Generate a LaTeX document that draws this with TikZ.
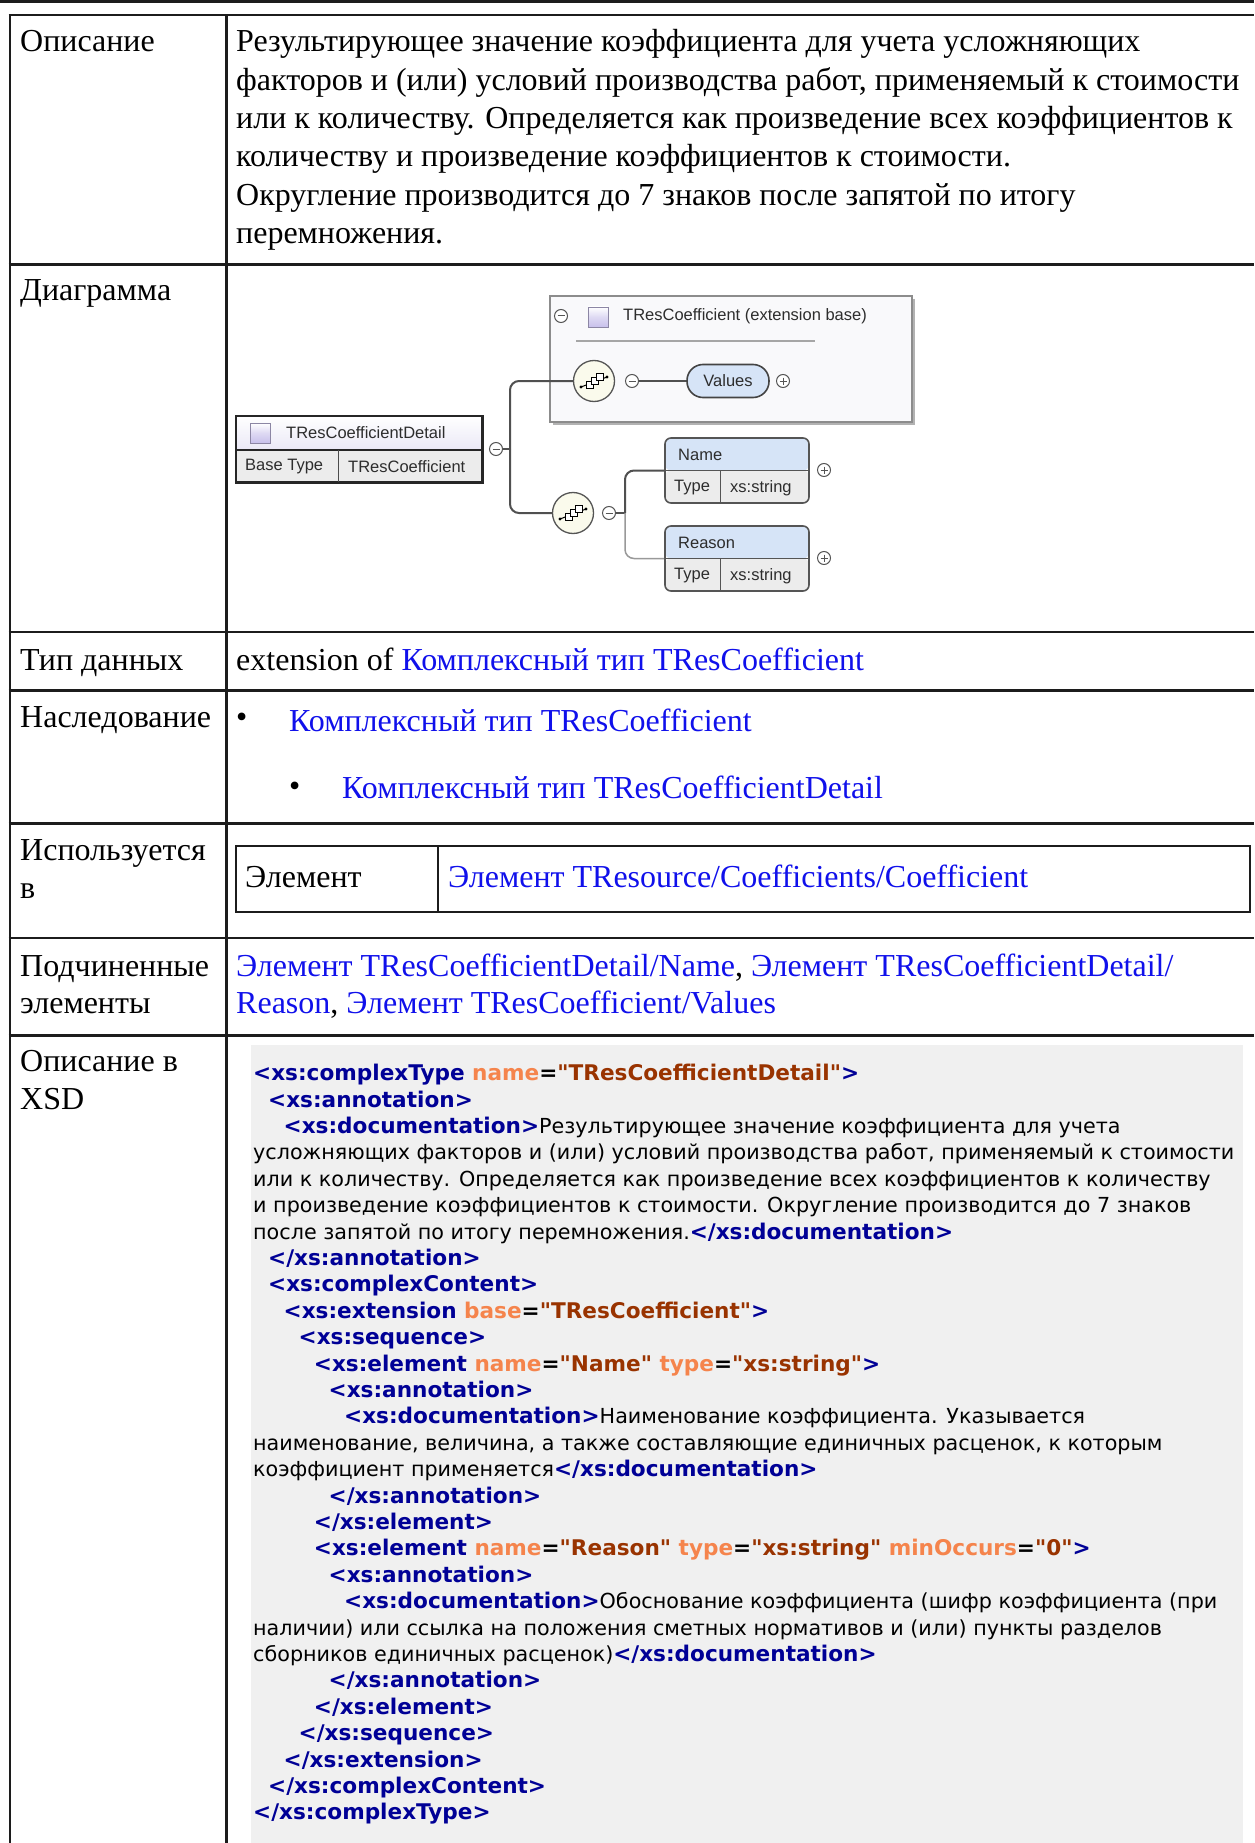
\documentclass[tikz,border=0pt]{standalone}
\usepackage{fontspec}
\setmainfont{Liberation Serif}
\newfontfamily\codefont{DejaVu Sans}
\newfontfamily\diafont{Liberation Sans}
\usetikzlibrary{calc}
\definecolor{rulec}{RGB}{28,28,28}
\definecolor{linkc}{RGB}{16,16,235}
\definecolor{tagc}{RGB}{0,0,150}
\definecolor{attc}{RGB}{245,132,76}
\definecolor{valc}{RGB}{153,51,0}
\definecolor{codebg}{RGB}{240,240,240}
\definecolor{diac}{RGB}{45,45,45}
\definecolor{pmc}{RGB}{85,85,85}
\definecolor{connc}{RGB}{80,80,80}
\definecolor{seqf}{RGB}{250,250,236}
\definecolor{elhead}{RGB}{214,228,247}
\definecolor{elrow}{RGB}{236,236,236}
\definecolor{elline}{RGB}{85,85,85}
\definecolor{lav}{RGB}{200,192,235}
\newcommand\bfsz{\fontsize{21.6}{26}\selectfont\bfseries}
\newcommand\xtg[1]{{\bfsz\color{tagc}#1}}
\newcommand\xan[1]{{\bfsz\color{attc}#1}}
\newcommand\xav[1]{{\bfsz\color{valc}#1}}
\newcommand\xeq{{\bfsz=}}
\newcommand\xsp{{\bfsz\ }}
\tikzset{
  txt/.style={inner sep=0pt, anchor=base west, font=\fontsize{32}{38}\selectfont},
  lnk/.style={txt, text=linkc},
  code/.style={inner sep=0pt, anchor=base west, font=\codefont\fontsize{20.7}{26}\selectfont},
  dtxt/.style={inner sep=0pt, anchor=west, font=\diafont\fontsize{16.5}{18}\selectfont, text=diac},
  pm/.style={circle, draw=pmc, line width=1pt, fill=white, minimum size=13pt, inner sep=0pt},
  seqc/.style={circle, draw=pmc, line width=1.3pt, fill=seqf, minimum size=41pt, inner sep=0pt},
  conn/.style={draw=connc, line width=2pt, rounded corners=9pt},
  connlight/.style={draw=black!40, line width=1.5pt, rounded corners=9pt},
  icon/.style={draw=lav!70!black, line width=0.8pt, minimum size=20pt, inner sep=0pt,
    top color=white, bottom color=lav, middle color=lav!60},
  elbox/.style={draw=elline, line width=1.6pt, rounded corners=6pt, minimum width=144pt,
    minimum height=65pt, inner sep=0pt,
    path picture={\fill[elhead] (path picture bounding box.north west) rectangle (path picture bounding box.east);
      \fill[elrow] (path picture bounding box.west) rectangle (path picture bounding box.south east);}},
  valbox/.style={draw=elline!80!black, line width=1.6pt, rounded corners=16pt, fill=elhead,
    minimum width=82pt, minimum height=33pt, inner sep=0pt, font=\diafont\fontsize{16.5}{18}\selectfont, text=diac},
}
\newcommand\seqicon[1]{%
  \draw[black, line width=1pt] ($(#1)+(-13,6)$) -- ($(#1)+(13,-4)$);
  \fill[black] ($(#1)+(-13,6)$) circle (1.6pt);
  \fill[black] ($(#1)+(13,-4)$) circle (1.6pt);
  \draw[black, fill=white, line width=1pt] ($(#1)+(-8,0)$) rectangle ($(#1)+(-1,7)$);
  \draw[black, fill=white, line width=1pt] ($(#1)+(-3,-4)$) rectangle ($(#1)+(4,3)$);
  \draw[black, fill=white, line width=1pt] ($(#1)+(2,-8)$) rectangle ($(#1)+(9,-1)$);
}
\newcommand\minussign[1]{\draw[pmc, line width=1pt] ($(#1)+(-3.5,0)$) -- ($(#1)+(3.5,0)$);}
\newcommand\plussign[1]{\draw[pmc, line width=1pt] ($(#1)+(-3.5,0)$) -- ($(#1)+(3.5,0)$);
  \draw[pmc, line width=1pt] ($(#1)+(0,-3.5)$) -- ($(#1)+(0,3.5)$);}
\begin{document}
\begin{tikzpicture}[x=1pt,y=-1pt]
\useasboundingbox (0,0) rectangle (1254,1843);
\fill[white] (0,0) rectangle (1254,1843);
% code background
\fill[codebg] (251,1045) rectangle (1243,1843);
% table lines
\draw[rulec, line width=3pt] (0,1.3) -- (1254,1.3);
\foreach \yy in {15,264.5,632,690.5,823.5,938,1035.5}{
  \draw[rulec, line width=2.6pt] (8.7,\yy) -- (1254,\yy);
}
\draw[rulec, line width=2.6pt] (10,15) -- (10,1843);
\draw[rulec, line width=2.6pt] (226.5,15) -- (226.5,1843);
% inner table
\draw[rulec, line width=2.6pt] (236,846) rectangle (1250,912);
\draw[rulec, line width=2.6pt] (438,846) -- (438,912);

% row 1
\node[txt] (l1) at (20,52) {Описание};
\node[txt] (r1a) at (236,52) {Результирующее значение коэффициента для учета усложняющих};
\node[txt] (r1b) at (236,90.3) {факторов и (или) условий производства работ, применяемый к стоимости};
\node[txt] (r1c) at (236,128.6) {или к количеству. Определяется как произведение всех коэффициентов к};
\node[txt] (r1d) at (236,166.9) {количеству и произведение коэффициентов к стоимости.};
\node[txt] (r1e) at (236,205.2) {Округление производится до 7 знаков после запятой по итогу};
\node[txt] (r1f) at (236,243.5) {перемножения.};
% row 2
\node[txt] (l2) at (20,301) {Диаграмма};
% row 3
\node[txt] (l3) at (20,670) {Тип данных};
\node[txt] (r3) at (236,670) {extension of \textcolor{linkc}{Комплексный тип TResCoefficient}};
% row 4
\node[txt] (l4) at (20,727) {Наследование};
\node[txt] (b1) at (236,727) {•};
\node[lnk] (r4a) at (289,731) {Комплексный тип TResCoefficient};
\node[txt] (b2) at (289,796) {•};
\node[lnk] (r4b) at (342,798) {Комплексный тип TResCoefficientDetail};
% row 5
\node[txt] (l5a) at (20,860) {Используется};
\node[txt] (l5b) at (20,898) {в};
\node[txt] (r5a) at (245,887) {Элемент};
\node[lnk] (r5b) at (448,887) {Элемент TResource/Coefficients/Coefficient};
% row 6
\node[txt] (l6a) at (20,976) {Подчиненные};
\node[txt] (l6b) at (20,1013) {элементы};
\node[txt] (r6a) at (236,976) {\textcolor{linkc}{Элемент TResCoefficientDetail/Name}, \textcolor{linkc}{Элемент TResCoefficientDetail/}};
\node[txt] (r6b) at (236,1013) {\textcolor{linkc}{Reason}, \textcolor{linkc}{Элемент TResCoefficient/Values}};
% row 7
\node[txt] (l7a) at (20,1071) {Описание в};
\node[txt] (l7b) at (20,1109) {XSD};

% code
\node[code] (c0) at (253,1080.7) {\xtg{<xs:complexType}\xsp\xan{name}\xeq\xav{"TResCoefficientDetail"}\xtg{>}};
\node[code] (c1) at (268,1107.1) {\xtg{<xs:annotation>}};
\node[code] (c2) at (283.5,1133.5) {\xtg{<xs:documentation>}Результирующее значение коэффициента для учета};
\node[code] (c3) at (253,1159.9) {усложняющих факторов и (или) условий производства работ, применяемый к стоимости};
\node[code] (c4) at (253,1186.3) {или к количеству. Определяется как произведение всех коэффициентов к количеству};
\node[code] (c5) at (253,1212.7) {и произведение коэффициентов к стоимости. Округление производится до 7 знаков};
\node[code] (c6) at (253,1239.1) {после запятой по итогу перемножения.\xtg{</xs:documentation>}};
\node[code] (c7) at (268,1265.5) {\xtg{</xs:annotation>}};
\node[code] (c8) at (268,1291.9) {\xtg{<xs:complexContent>}};
\node[code] (c9) at (283.5,1318.3) {\xtg{<xs:extension}\xsp\xan{base}\xeq\xav{"TResCoefficient"}\xtg{>}};
\node[code] (c10) at (298.5,1344.7) {\xtg{<xs:sequence>}};
\node[code] (c11) at (313.7,1371.1) {\xtg{<xs:element}\xsp\xan{name}\xeq\xav{"Name"}\xsp\xan{type}\xeq\xav{"xs:string"}\xtg{>}};
\node[code] (c12) at (328.5,1397.5) {\xtg{<xs:annotation>}};
\node[code] (c13) at (344,1423.9) {\xtg{<xs:documentation>}Наименование коэффициента. Указывается};
\node[code] (c14) at (253,1450.3) {наименование, величина, а также составляющие единичных расценок, к которым};
\node[code] (c15) at (253,1476.7) {коэффициент применяется\xtg{</xs:documentation>}};
\node[code] (c16) at (328.5,1503.1) {\xtg{</xs:annotation>}};
\node[code] (c17) at (313.7,1529.5) {\xtg{</xs:element>}};
\node[code] (c18) at (313.7,1555.9) {\xtg{<xs:element}\xsp\xan{name}\xeq\xav{"Reason"}\xsp\xan{type}\xeq\xav{"xs:string"}\xsp\xan{minOccurs}\xeq\xav{"0"}\xtg{>}};
\node[code] (c19) at (328.5,1582.3) {\xtg{<xs:annotation>}};
\node[code] (c20) at (344,1608.7) {\xtg{<xs:documentation>}Обоснование коэффициента (шифр коэффициента (при};
\node[code] (c21) at (253,1635.1) {наличии) или ссылка на положения сметных нормативов и (или) пункты разделов};
\node[code] (c22) at (253,1661.5) {сборников единичных расценок)\xtg{</xs:documentation>}};
\node[code] (c23) at (328.5,1687.9) {\xtg{</xs:annotation>}};
\node[code] (c24) at (313.7,1714.3) {\xtg{</xs:element>}};
\node[code] (c25) at (298.5,1740.7) {\xtg{</xs:sequence>}};
\node[code] (c26) at (283.5,1767.1) {\xtg{</xs:extension>}};
\node[code] (c27) at (268,1793.5) {\xtg{</xs:complexContent>}};
\node[code] (c28) at (253,1819.9) {\xtg{</xs:complexType>}};

% ===== diagram =====
% extension base box
\draw[black!30, line width=3pt] (913,299) -- (913,423) -- (553,423);
\node[draw=black!45, line width=2pt, fill={rgb,255:red,249;green,249;blue,251}, anchor=north west,
  minimum width=362pt, minimum height=126pt, inner sep=0pt] (ext) at (549,295) {};
\node[pm] (em) at (561,316) {};
\minussign{em}
\node[icon] (ei) at (598,317) {};
\node[dtxt] (et) at (623,316) {TResCoefficient (extension base)};
\draw[black!35, line width=1.5pt] (576,341) -- (815,341);
% sequence 1
\node[seqc] (s1) at (594,381) {};
\seqicon{s1}
\node[pm] (m1) at (632,381) {};
\minussign{m1}
\node[valbox] (val) at (728,381) {Values};
\node[pm] (p1) at (783,381) {};
\plussign{p1}
\draw[conn] (m1.east) -- (val.west);

% detail box
\node[anchor=north west, minimum width=246pt, minimum height=34pt, inner sep=0pt,
  top color=white, bottom color={rgb,255:red,234;green,232;blue,246}] (dh) at (236,416) {};
\node[anchor=north west, minimum width=102pt, minimum height=32pt, inner sep=0pt, fill=elrow] (db1) at (236,450) {};
\node[anchor=north west, minimum width=144pt, minimum height=32pt, inner sep=0pt, fill=elrow] (db2) at (338,450) {};
\draw[black!85, line width=2.4pt] (dh.north west) rectangle (db2.south east);
\draw[black!85, line width=2pt] (dh.south west) -- (dh.south east);
\draw[black!70, line width=1.5pt] (db1.north east) -- (db1.south east);
\node[icon] (di) at (260,433) {};
\node[dtxt] (dht) at (286,433) {TResCoefficientDetail};
\node[dtxt] (bt1) at (245,467) {Base Type};
\node[dtxt] (bt2) at (348,467) {TResCoefficient};
\node[pm] (dm) at (496,449) {};
\minussign{dm}

% sequence 2
\node[seqc] (s2) at (573,513) {};
\seqicon{s2}
\node[pm] (m2) at (609,513) {};
\minussign{m2}

\coordinate (j1) at (510,449);
\draw[conn] (dm.east) -- (j1);
\draw[conn] (j1) |- (s1.west);
\draw[conn] (j1) |- (s2.west);

% Name / Reason
\node[elbox] (nm) at (737,470.5) {};
\draw[elline, line width=1.4pt] (nm.west) -- (nm.east);
\draw[elline, line width=1.2pt] ($(nm.south west)+(56,0)$) -- ($(nm.west)+(56,0)$);
\node[dtxt] (nmt) at (678,455) {Name};
\node[dtxt] (nmt1) at (674,488) {Type};
\node[dtxt] (nmt2) at (730,488) {xs:string};
\node[pm] (np) at (824,470) {};
\plussign{np}

\node[elbox] (rs) at (737,558.5) {};
\draw[elline, line width=1.4pt] (rs.west) -- (rs.east);
\draw[elline, line width=1.2pt] ($(rs.south west)+(56,0)$) -- ($(rs.west)+(56,0)$);
\node[dtxt] (rst) at (678,543) {Reason};
\node[dtxt] (rst1) at (674,576) {Type};
\node[dtxt] (rst2) at (730,576) {xs:string};
\node[pm] (rp) at (824,558) {};
\plussign{rp}

\coordinate (j2) at (625,513);
\draw[conn] (m2.east) -- (j2);
\draw[conn] (j2) |- (nm.west);
\draw[connlight] (j2) |- (rs.west);
\end{tikzpicture}
\end{document}
